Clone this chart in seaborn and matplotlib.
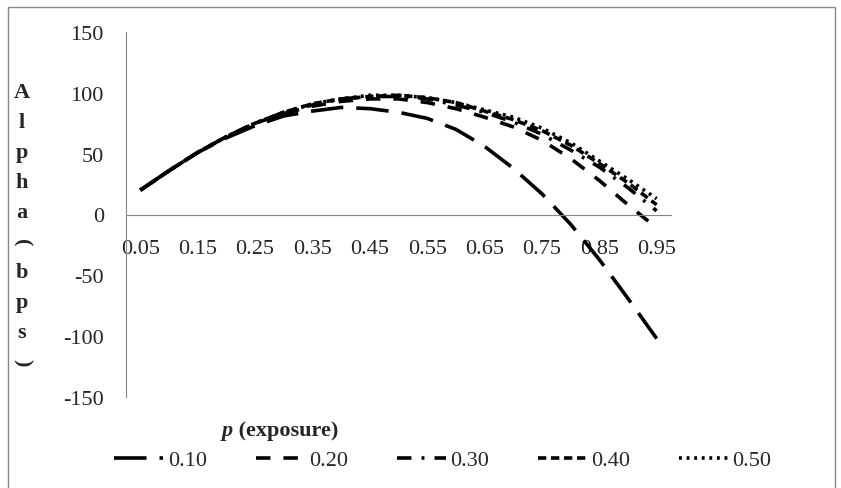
import matplotlib
matplotlib.use("Agg")
import matplotlib.pyplot as plt
import numpy as np
import pandas as pd
import seaborn as sns
from matplotlib.patches import Rectangle

# exposure p (categories on the x axis)
p_values = [0.05, 0.10, 0.15, 0.20, 0.25, 0.30, 0.35, 0.40, 0.45, 0.50,
            0.55, 0.60, 0.65, 0.70, 0.75, 0.80, 0.85, 0.90, 0.95]

# alpha (bps) per series
alpha_010 = [20, 36, 51, 63, 73, 81, 85, 88, 87, 84, 79, 70, 56, 38, 17, -8, -37, -69, -102]
alpha_020 = [20, 36, 51, 64, 75, 83, 89, 93, 95, 95, 92, 87, 80, 72, 61, 46, 28, 8, -11]
alpha_030 = [20, 36, 51, 64, 75, 84, 90, 95, 97, 97, 95, 90, 84, 76, 66, 53, 39, 22, 3]
alpha_040 = [20, 36, 51, 64, 75, 84, 91, 95, 97, 98, 96, 92, 85, 78, 69, 57, 42, 26, 8]
alpha_050 = [20, 36, 51, 64, 75, 84, 91, 95, 98, 98, 96, 92, 86, 80, 71, 59, 44, 29, 13]

series_labels = ["0.10", "0.20", "0.30", "0.40", "0.50"]
series_values = [alpha_010, alpha_020, alpha_030, alpha_040, alpha_050]

x_tick_labels = ["0.05", "0.15", "0.25", "0.35", "0.45", "0.55", "0.65", "0.75", "0.85", "0.95"]
y_ticks = [-150, -100, -50, 0, 50, 100, 150]

rows = []
for lab, vals in zip(series_labels, series_values):
    for p, v in zip(p_values, vals):
        rows.append({"p": p, "alpha": v, "series": lab})
df = pd.DataFrame(rows)

sns.set_style("white")
plt.rcParams["font.family"] = ["Liberation Serif", "DejaVu Serif"]
FS = 16

fig = plt.figure(figsize=(8.41, 4.89), dpi=100)
ax = fig.add_axes([126 / 841, 1 - 398 / 489, 545 / 841, 365 / 489])

dash_map = {
    "0.10": (9.0, 3.6),
    "0.20": (4.0, 3.6),
    "0.30": (4.0, 2.8, 0.8, 2.8),
    "0.40": (2.3, 1.3),
    "0.50": (0.8, 1.3),
}
sns.lineplot(data=df, x="p", y="alpha", hue="series", style="series",
             palette=["black"] * 5, dashes=dash_map, linewidth=2.6,
             ax=ax, legend=True)

handles, labels = ax.get_legend_handles_labels()
ax.get_legend().remove()

# shift the long-dash pattern so the 0.10 line ends on a dash
ax.lines[0].set_linestyle((10.4, (9.0, 3.6)))

ax.set_xlim(0.025, 0.975)
ax.set_ylim(-150, 150)

grey = "#868686"
for side in ["top", "right"]:
    ax.spines[side].set_visible(False)
ax.spines["left"].set_color(grey)
ax.spines["bottom"].set_color(grey)
ax.spines["bottom"].set_position(("data", 0))

# tick marks at category boundaries, labels at every other category center
bounds = np.arange(0.025, 0.976, 0.05)
ax.set_xticks(bounds)
ax.set_xticklabels([""] * len(bounds))
ax.set_xticks(p_values[::2], minor=True)
ax.set_xticklabels(x_tick_labels, minor=True)
ax.tick_params(axis="x", which="major", direction="out", length=6, color=grey, width=1)
ax.tick_params(axis="x", which="minor", length=0, pad=18, labelsize=FS)

ax.set_yticks(y_ticks)
ax.set_yticklabels([str(t) for t in y_ticks])
ax.tick_params(axis="y", direction="out", length=6, color=grey, width=1, pad=10, labelsize=FS)
ax.set_xlabel("")
ax.set_ylabel("")

# stacked y axis title
ylab_chars = ["A", "l", "p", "h", "a", "(", "b", "p", "s", ")"]
for k, ch in enumerate(ylab_chars):
    ypix = 93 + 30 * k
    rot = -90 if ch in "()" else 0
    fig.text(22 / 841, 1 - ypix / 489, ch, ha="center", va="center",
             fontsize=FS, fontweight="bold", rotation=rot)

fig.text(222 / 841, 1 - 431 / 489, "p", ha="left", va="center", fontsize=FS,
         fontweight="bold", fontstyle="italic")
fig.text(233 / 841, 1 - 431 / 489, " (exposure)", ha="left", va="center",
         fontsize=FS, fontweight="bold")

fig.legend(handles, labels, loc="center", bbox_to_anchor=(443 / 841, 1 - 461 / 489),
           ncol=5, frameon=False, fontsize=FS, handlelength=2.2,
           handletextpad=0.2, columnspacing=2.2)

fig.patches.append(Rectangle((8 / 841, -0.1), (835 - 8) / 841, 1.1 - 8 / 489,
                             transform=fig.transFigure, fill=False,
                             edgecolor="#888888", linewidth=1))

fig.savefig("out.png", dpi=100)
